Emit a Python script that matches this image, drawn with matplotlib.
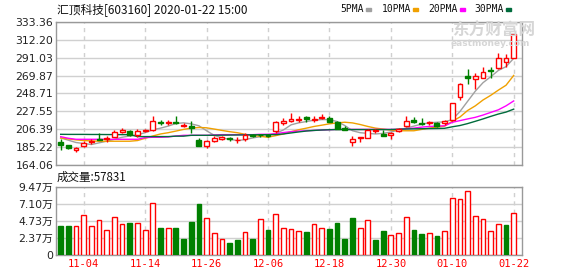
import numpy as np
import matplotlib.pyplot as plt

plt.rcParams['font.family'] = ['DejaVu Sans', 'Noto Sans CJK SC']

# 交易日 (2019-10-30 ~ 2020-01-22)
dates = ['10-30', '10-31', '11-01', '11-04', '11-05', '11-06', '11-07', '11-08', '11-11', '11-12',
         '11-13', '11-14', '11-15', '11-18', '11-19', '11-20', '11-21', '11-22', '11-25', '11-26',
         '11-27', '11-28', '11-29', '12-02', '12-03', '12-04', '12-05', '12-06', '12-09', '12-10',
         '12-11', '12-12', '12-13', '12-16', '12-17', '12-18', '12-19', '12-20', '12-23', '12-24',
         '12-25', '12-26', '12-27', '12-30', '12-31', '01-02', '01-03', '01-06', '01-07', '01-08',
         '01-09', '01-10', '01-13', '01-14', '01-15', '01-16', '01-17', '01-20', '01-21', '01-22']

opens = [191.0, 187.5, 182.1, 186.0, 191.4, 195.3, 194.5, 197.6, 203.1, 204.6,
         199.2, 203.9, 205.4, 215.5, 214.3, 214.7, 210.1, 210.1, 193.8, 186.0,
         193.0, 195.3, 196.1, 193.8, 195.3, 199.6, 199.6, 199.6, 203.9, 213.9,
         216.3, 217.4, 221.0, 217.8, 219.4, 219.4, 215.1, 208.1, 190.7, 196.1,
         196.1, 203.9, 200.8, 199.2, 204.6, 210.1, 217.4, 214.0, 213.2, 214.0,
         213.2, 217.8, 244.2, 268.9, 266.3, 267.4, 276.8, 279.0, 286.0, 290.7]
highs = [194.5, 188.3, 185.6, 193.0, 194.5, 202.3, 198.4, 206.0, 207.3, 205.0,
         206.2, 206.6, 222.5, 217.8, 217.4, 221.7, 213.2, 216.3, 196.1, 193.8,
         198.4, 198.0, 197.6, 196.9, 201.5, 200.4, 200.8, 200.4, 216.3, 219.4,
         225.6, 222.5, 222.5, 222.5, 224.8, 222.5, 216.3, 210.1, 198.8, 197.6,
         207.0, 206.2, 205.4, 202.7, 207.7, 222.5, 220.9, 219.4, 216.3, 215.5,
         217.8, 238.0, 261.3, 277.9, 272.8, 279.7, 279.7, 297.2, 296.0, 319.3]
lows = [182.1, 183.3, 179.8, 185.6, 189.1, 193.4, 191.4, 196.9, 201.5, 198.4,
        197.6, 203.1, 204.6, 211.6, 212.0, 212.8, 209.3, 202.3, 186.4, 183.7,
        191.4, 193.8, 192.2, 189.9, 193.0, 197.3, 197.3, 197.6, 201.5, 211.2,
        215.5, 215.5, 214.7, 215.5, 218.6, 214.7, 206.2, 205.0, 186.8, 190.7,
        196.1, 202.3, 198.0, 194.5, 203.1, 209.3, 214.0, 211.6, 211.6, 209.3,
        211.6, 216.3, 241.0, 260.4, 254.6, 267.4, 267.4, 278.0, 280.6, 290.2]
closes = [187.9, 183.7, 184.1, 189.9, 193.0, 193.8, 196.1, 203.1, 205.4, 199.2,
          204.6, 205.4, 216.3, 214.3, 215.1, 213.2, 212.0, 207.4, 186.8, 193.0,
          196.1, 196.9, 194.5, 194.2, 200.0, 198.8, 199.2, 198.9, 214.7, 216.7,
          218.6, 219.0, 218.6, 218.9, 221.3, 215.5, 206.6, 205.8, 194.5, 197.6,
          205.8, 205.0, 198.4, 202.3, 207.0, 216.3, 215.5, 212.8, 215.5, 210.8,
          216.3, 237.3, 260.5, 267.0, 268.9, 273.9, 275.9, 291.0, 290.2, 319.0]
prev_close = 190.0

# 成交量 (万股)
volumes = [4.04, 4.04, 4.04, 5.57, 4.04, 4.87, 3.48, 5.29, 4.32, 4.50,
           4.46, 3.48, 7.24, 3.81, 3.76, 3.81, 2.27, 4.64, 7.10, 5.15,
           3.06, 2.23, 1.72, 2.09, 3.20, 2.27, 5.01, 3.48, 5.71, 3.76,
           3.62, 3.34, 3.25, 4.32, 3.76, 3.67, 4.46, 2.27, 5.20, 3.76,
           4.87, 2.09, 3.34, 2.79, 3.06, 5.29, 3.48, 2.92, 3.06, 2.65,
           3.34, 7.94, 7.80, 8.91, 5.43, 5.01, 3.34, 4.32, 4.18, 5.7831]
last_volume = 57831

ma5 = [196.1, 193.4, 190.7, 189.5, 188.3, 190.3, 192.2, 194.5, 196.9, 198.4,
       200.0, 202.3, 205.8, 207.7, 210.1, 213.2, 214.0, 212.8, 210.5, 204.6,
       199.2, 196.1, 194.5, 193.0, 194.1, 196.1, 197.6, 199.2, 201.5, 205.5,
       211.6, 214.0, 215.5, 217.1, 217.8, 217.8, 215.5, 210.8, 204.6, 202.3,
       201.5, 200.8, 201.5, 203.1, 205.4, 207.7, 210.1, 212.4, 214.0, 214.7,
       215.1, 217.8, 227.4, 239.5, 251.5, 261.5, 268.5, 276.0, 280.5, 290.3]
ma10 = [196.1, 194.9, 193.8, 193.0, 192.6, 192.2, 192.2, 192.2, 192.2, 192.2,
        193.0, 195.7, 198.4, 200.8, 202.3, 204.2, 206.2, 207.7, 208.5, 208.1,
        206.6, 205.0, 203.5, 202.3, 200.4, 199.2, 198.0, 196.9, 198.8, 200.8,
        203.5, 205.8, 207.7, 209.7, 211.2, 212.8, 213.9, 214.7, 213.9, 212.0,
        209.7, 207.7, 206.6, 205.4, 204.6, 204.6, 204.6, 206.2, 207.7, 208.9,
        210.1, 215.8, 220.9, 228.6, 234.1, 241.0, 246.5, 252.7, 258.5, 270.1]
ma20 = [197.6, 195.7, 194.5, 194.5, 194.5, 194.5, 194.5, 194.5, 194.5, 194.5,
        194.5, 196.5, 196.9, 196.9, 197.3, 198.4, 199.2, 199.2, 199.2, 199.2,
        199.6, 200.0, 200.0, 200.0, 200.0, 200.0, 200.4, 200.4, 201.1, 202.5,
        203.5, 204.2, 204.6, 205.0, 205.4, 205.8, 206.2, 206.2, 206.2, 206.2,
        206.2, 206.2, 206.2, 206.2, 206.2, 207.0, 207.7, 208.9, 209.7, 210.1,
        210.5, 214.6, 216.6, 218.6, 220.5, 223.2, 226.3, 229.4, 234.1, 239.9]
ma30 = [200.4, 200.3, 200.3, 200.3, 200.2, 200.2, 200.1, 200.1, 200.0, 200.0,
        197.7, 197.7, 197.7, 197.7, 197.7, 198.2, 198.2, 199.2, 199.2, 199.2,
        199.3, 199.4, 199.5, 199.6, 199.7, 199.8, 199.9, 200.0, 200.0, 200.8,
        202.0, 203.2, 204.3, 205.0, 205.5, 205.8, 206.0, 206.0, 206.0, 206.0,
        206.0, 206.0, 206.0, 206.0, 206.5, 206.7, 206.9, 207.0, 207.2, 207.3,
        207.5, 209.3, 210.8, 213.1, 215.8, 218.6, 221.6, 224.4, 226.7, 230.2]

price_ticks = [164.06, 185.22, 206.39, 227.55, 248.71, 269.87, 291.03, 312.20, 333.36]
vol_ticks = [0, 2.37, 4.73, 7.10, 9.47]
vol_tick_labels = ['0', '2.37万', '4.73万', '7.10万', '9.47万']
ma_labels = ['5PMA', '10PMA', '20PMA', '30PMA']
ma_colors = ['#a0a0a0', '#f0a000', '#ff00ff', '#006b3c']
title = '汇顶科技[603160] 2020-01-22 15:00'

RED = '#ff0000'
GREEN = '#008000'
GRID = '#d0d0d0'
SPINE = '#999999'

W, H = 578, 276
fig = plt.figure(figsize=(W / 100, H / 100), dpi=100)


def box(x0, y0, x1, y1):
    return [x0 / W, 1 - y1 / H, (x1 - x0) / W, (y1 - y0) / H]


def fx(x):
    return x / W


def fy(y):
    return 1 - y / H


ax = fig.add_axes(box(56, 22, 522, 165))
axv = fig.add_axes(box(56, 187, 522, 255))

x = np.arange(len(closes))
o = np.array(opens)
c = np.array(closes)
up = c >= o
tick_idx = list(range(3, len(dates), 8))

for a in (ax, axv):
    a.set_xlim(-0.61, 60.08)
    for s in a.spines.values():
        s.set_color(SPINE)
        s.set_linewidth(1)
    for t in tick_idx:
        a.axvline(t, color=GRID, lw=1, ls=(0, (3, 3)), zorder=0)
    a.yaxis.grid(True, color=GRID, lw=1, zorder=0)
    a.set_axisbelow(True)
    a.tick_params(axis='y', length=0, pad=2, labelsize=7.8, labelcolor='#222222')

# 价格
ax.set_ylim(price_ticks[0], price_ticks[-1])
ax.set_yticks(price_ticks)
ax.set_yticklabels(['%.2f' % v for v in price_ticks])
ax.set_xticks([])

for m, col in zip([ma5, ma10, ma20, ma30], ma_colors):
    ax.plot(x, m, color=col, lw=1, zorder=2)

cols = np.where(up, RED, GREEN)
ax.vlines(x, lows, highs, colors=cols, lw=1, zorder=3)
body_h = np.maximum(np.abs(c - o), 0.15)
ax.bar(x, body_h, bottom=np.minimum(o, c), width=0.64,
       facecolor=np.where(up, 'white', GREEN), edgecolor=cols, lw=1, zorder=4)

# 水印
fig.text(fx(452), fy(31), '东方财富网', fontsize=12, color='#d6d6d6', fontweight='bold',
         family=['Noto Sans CJK SC'], va='center', ha='left', zorder=1)
fig.text(fx(451), fy(43.5), 'eastmoney.com', fontsize=6.5, color='#d6d6d6', fontweight='bold',
         va='center', ha='left', zorder=1)

# 成交量
prev = np.concatenate([[prev_close], c[:-1]])
vup = c >= prev
axv.set_ylim(vol_ticks[0], vol_ticks[-1])
axv.set_yticks(vol_ticks)
axv.set_yticklabels(vol_tick_labels)
axv.bar(x, volumes, width=0.62, facecolor=np.where(vup, 'white', GREEN),
        edgecolor=np.where(vup, RED, GREEN), lw=1, zorder=3)
axv.set_xticks(tick_idx)
axv.set_xticklabels([dates[i] for i in tick_idx], family='DejaVu Sans Mono', fontsize=7.5)
axv.tick_params(axis='x', length=0, pad=3, labelcolor=RED)

# 文字
fig.text(fx(57), fy(10), title, fontsize=8.5, family=['Noto Sans CJK SC'], color='#111111',
         va='center', ha='left')
fig.text(fx(57), fy(177), '成交量:%d' % last_volume, fontsize=8.3, family=['Noto Sans CJK SC'],
         color='#111111', va='center', ha='left')

# 图例: 文字右端 / 色块左端 (像素)
leg_marker_x = [366, 413, 460, 506]
for mx, lab, col in zip(leg_marker_x, ma_labels, ma_colors):
    fig.text(fx(mx - 2), fy(9.5), lab, fontsize=7, family='DejaVu Sans Mono', color='#111111',
             va='center', ha='right')
    fig.patches.append(plt.Rectangle((fx(mx), fy(11)), 5 / W, 3 / H, color=col,
                                     transform=fig.transFigure, figure=fig))

fig.savefig('out.png', dpi=100)
